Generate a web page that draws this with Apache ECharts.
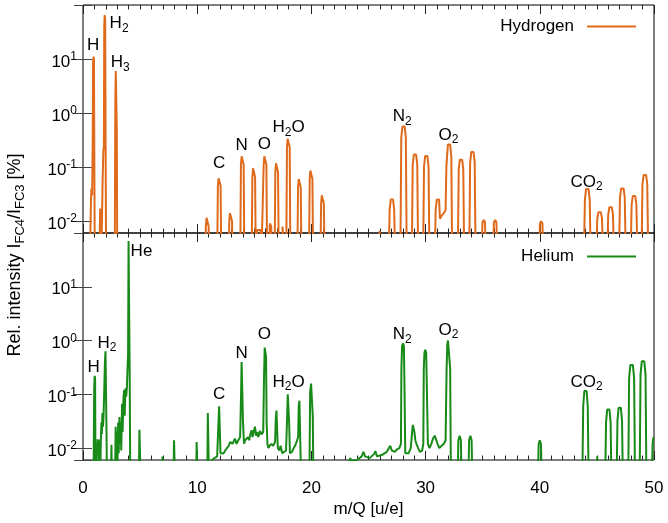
<!DOCTYPE html>
<html>
<head>
<meta charset="utf-8">
<script src="https://cdn.jsdelivr.net/npm/echarts@6/dist/echarts.min.js"></script>
<style>
    html, body { margin: 0; padding: 0; background: #fff; }
    #chart { width: 668px; height: 523px; }
</style>
</head>
<body>
<div id="chart"></div>
<script>
// spectra: [m/Q, rel. intensity %]
// 0.002 is "below the axis" (signal not visible)
const hydrogenSpectrum = [
    [0.6, 0.002], [0.7, 0.025], [0.74, 0.04], [0.8, 0.03], [0.85, 0.3], [0.88, 9], [0.92, 11], [0.96, 10], [0.99, 0.2], [1.03, 0.002],
    [1.44, 0.002], [1.5, 0.017], [1.56, 0.014], [1.6, 0.002], [1.66, 0.01], [1.72, 0.06], [1.78, 0.19], [1.83, 0.25], [1.86, 40], [1.9, 65], [1.94, 55], [1.98, 0.3], [2.02, 0.002],
    [2.78, 0.002], [2.83, 1.5], [2.87, 6], [2.92, 5.8], [2.96, 0.5], [3.0, 0.002],
    [10.7, 0.002], [10.76, 0.008], [10.82, 0.0115], [10.88, 0.012], [10.94, 0.0115], [11.0, 0.008], [11.06, 0.002],
    [11.75, 0.002], [11.81, 0.045], [11.87, 0.062], [11.93, 0.066], [11.99, 0.062], [12.05, 0.045], [12.11, 0.002],
    [12.75, 0.002], [12.81, 0.01], [12.87, 0.014], [12.93, 0.015], [12.99, 0.014], [13.05, 0.01], [13.11, 0.002],
    [13.77, 0.002], [13.83, 0.11], [13.89, 0.158], [13.95, 0.167], [14.01, 0.158], [14.07, 0.11], [14.13, 0.002],
    [14.77, 0.002], [14.83, 0.065], [14.89, 0.095], [14.95, 0.1], [15.01, 0.095], [15.07, 0.065], [15.13, 0.002],
    [15.2, 0.002], [15.25, 0.0068], [15.4, 0.0066], [15.55, 0.0068], [15.62, 0.002],
    [15.76, 0.002], [15.82, 0.11], [15.88, 0.158], [15.94, 0.167], [16.0, 0.158], [16.06, 0.11], [16.12, 0.002],
    [16.3, 0.002], [16.36, 0.009], [16.42, 0.0095], [16.48, 0.008], [16.54, 0.002],
    [16.78, 0.002], [16.84, 0.08], [16.9, 0.117], [16.96, 0.123], [17.02, 0.117], [17.08, 0.08], [17.14, 0.002],
    [17.42, 0.002], [17.48, 0.0079], [17.54, 0.0075], [17.6, 0.002],
    [17.8, 0.002], [17.86, 0.23], [17.92, 0.335], [17.98, 0.355], [18.04, 0.335], [18.1, 0.23], [18.16, 0.002],
    [18.77, 0.002], [18.83, 0.042], [18.89, 0.06], [18.95, 0.063], [19.01, 0.06], [19.07, 0.042], [19.13, 0.002],
    [19.79, 0.002], [19.85, 0.06], [19.91, 0.086], [19.97, 0.091], [20.03, 0.086], [20.09, 0.06], [20.15, 0.002],
    [20.79, 0.002], [20.85, 0.021], [20.91, 0.03], [20.97, 0.032], [21.03, 0.03], [21.09, 0.021], [21.15, 0.002],
    [25.9, 0.002], [25.97, 0.0065], [26.03, 0.007], [26.09, 0.0065], [26.16, 0.002],
    [26.77, 0.002], [26.85, 0.016], [26.95, 0.025], [27.05, 0.027], [27.15, 0.025], [27.25, 0.016], [27.33, 0.002],
    [27.79, 0.002], [27.87, 0.35], [27.97, 0.56], [28.07, 0.6], [28.17, 0.56], [28.27, 0.35], [28.35, 0.002],
    [28.79, 0.002], [28.87, 0.11], [28.97, 0.17], [29.07, 0.18], [29.17, 0.17], [29.27, 0.11], [29.35, 0.002],
    [29.78, 0.002], [29.86, 0.1], [29.96, 0.16], [30.06, 0.17], [30.16, 0.16], [30.26, 0.1], [30.34, 0.002],
    [30.8, 0.002], [30.88, 0.016], [30.98, 0.025], [31.08, 0.027], [31.18, 0.025], [31.26, 0.011], [31.4, 0.0125], [31.6, 0.014], [31.75, 0.016],
    [31.82, 0.1], [31.95, 0.26], [32.05, 0.28], [32.15, 0.26], [32.25, 0.16], [32.33, 0.002],
    [32.82, 0.002], [32.9, 0.09], [33.0, 0.137], [33.1, 0.145], [33.2, 0.137], [33.3, 0.09], [33.38, 0.002],
    [33.82, 0.002], [33.9, 0.12], [34.0, 0.19], [34.1, 0.2], [34.2, 0.19], [34.3, 0.12], [34.38, 0.002],
    [34.9, 0.002], [34.98, 0.0095], [35.09, 0.0105], [35.2, 0.0095], [35.28, 0.002],
    [35.9, 0.002], [35.98, 0.0095], [36.09, 0.0105], [36.2, 0.0095], [36.28, 0.002],
    [39.93, 0.002], [40.01, 0.009], [40.12, 0.0099], [40.23, 0.009], [40.31, 0.002],
    [43.86, 0.002], [43.95, 0.025], [44.05, 0.039], [44.16, 0.041], [44.27, 0.039], [44.37, 0.025], [44.46, 0.002],
    [44.94, 0.002], [45.03, 0.011], [45.13, 0.0145], [45.24, 0.015], [45.35, 0.0145], [45.45, 0.011], [45.54, 0.002],
    [45.9, 0.002], [45.99, 0.013], [46.09, 0.018], [46.2, 0.019], [46.31, 0.018], [46.41, 0.013], [46.5, 0.002],
    [46.93, 0.002], [47.02, 0.027], [47.12, 0.04], [47.23, 0.042], [47.34, 0.04], [47.44, 0.027], [47.53, 0.002],
    [47.95, 0.002], [48.04, 0.02], [48.14, 0.029], [48.25, 0.03], [48.36, 0.029], [48.46, 0.02], [48.55, 0.002],
    [48.9, 0.002], [48.99, 0.048], [49.09, 0.071], [49.2, 0.075], [49.31, 0.071], [49.41, 0.048], [49.5, 0.002]
];

const heliumSpectrum = [
    [0.92, 0.002], [0.98, 0.12], [1.02, 0.22], [1.06, 0.2], [1.1, 0.002],
    [1.24, 0.002], [1.28, 0.0145], [1.33, 0.011], [1.38, 0.0145], [1.43, 0.003],
    [1.5, 0.002], [1.56, 0.013], [1.61, 0.03], [1.65, 0.018], [1.7, 0.045], [1.75, 0.025], [1.8, 0.04], [1.86, 0.12], [1.92, 0.4], [1.97, 0.63], [2.02, 0.6], [2.06, 0.02], [2.1, 0.002],
    [2.44, 0.002], [2.49, 0.0115], [2.54, 0.002],
    [2.8, 0.002], [2.86, 0.025], [2.9, 0.006], [2.96, 0.02], [3.02, 0.005], [3.08, 0.03], [3.13, 0.008], [3.19, 0.038], [3.24, 0.012], [3.3, 0.03], [3.35, 0.009], [3.42, 0.067], [3.47, 0.02], [3.54, 0.08], [3.6, 0.12], [3.65, 0.04], [3.72, 0.13], [3.78, 0.09], [3.84, 0.13], [3.9, 0.12], [3.95, 0.6], [3.99, 71], [4.04, 70], [4.09, 0.2], [4.14, 0.002],
    [4.88, 0.002], [4.94, 0.022], [5.0, 0.021], [5.06, 0.002],
    [6.9, 0.002], [6.96, 0.007], [7.02, 0.002],
    [7.92, 0.002], [7.97, 0.014], [8.02, 0.013], [8.07, 0.002],
    [9.9, 0.002], [9.95, 0.013], [10.0, 0.012], [10.05, 0.002],
    [10.88, 0.002], [10.93, 0.045], [10.99, 0.043], [11.04, 0.002],
    [11.15, 0.004], [11.35, 0.0062], [11.55, 0.0066], [11.75, 0.007],
    [11.86, 0.03], [11.92, 0.06], [11.98, 0.058], [12.04, 0.008],
    [12.2, 0.0075], [12.3, 0.0079], [12.45, 0.009], [12.6, 0.01], [12.75, 0.011], [12.9, 0.013], [13.0, 0.014], [13.1, 0.012], [13.2, 0.013], [13.3, 0.015], [13.45, 0.012], [13.6, 0.014], [13.76, 0.016],
    [13.84, 0.1], [13.89, 0.4], [13.95, 0.38], [14.01, 0.03], [14.1, 0.012], [14.2, 0.014], [14.3, 0.013], [14.45, 0.016], [14.55, 0.014], [14.65, 0.018], [14.77, 0.0215], [14.85, 0.016], [14.95, 0.02], [15.06, 0.025], [15.15, 0.017], [15.25, 0.02], [15.35, 0.016], [15.5, 0.021], [15.62, 0.018], [15.78, 0.02],
    [15.85, 0.2], [15.91, 0.74], [15.97, 0.76], [16.03, 0.5], [16.08, 0.03], [16.15, 0.012], [16.23, 0.01], [16.35, 0.011], [16.5, 0.012], [16.65, 0.011], [16.82, 0.013],
    [16.88, 0.035], [16.94, 0.05], [17.0, 0.048], [17.06, 0.01], [17.2, 0.009], [17.3, 0.011], [17.45, 0.008], [17.6, 0.0085], [17.78, 0.009],
    [17.86, 0.03], [17.93, 0.1], [17.99, 0.105], [18.05, 0.03], [18.12, 0.008], [18.3, 0.0085], [18.45, 0.01], [18.57, 0.011], [18.7, 0.013], [18.84, 0.016],
    [18.89, 0.06], [18.95, 0.076], [19.01, 0.072], [19.07, 0.005], [19.12, 0.002],
    [19.82, 0.002], [19.89, 0.11], [19.97, 0.158], [20.05, 0.15], [20.12, 0.04], [20.18, 0.002],
    [22.9, 0.002], [23.3, 0.0058], [23.4, 0.0065], [23.5, 0.0058], [24.0, 0.006], [24.4, 0.007], [24.56, 0.0085], [24.7, 0.007], [25.1, 0.0065], [25.5, 0.0078], [25.6, 0.0088], [25.75, 0.007], [26.2, 0.0075], [26.6, 0.0085], [26.9, 0.011], [27.05, 0.009], [27.3, 0.0085], [27.5, 0.0095], [27.7, 0.01], [27.84, 0.012],
    [27.88, 0.3], [27.94, 0.8], [28.02, 0.89], [28.1, 0.8], [28.16, 0.1], [28.22, 0.008], [28.35, 0.0075], [28.5, 0.008], [28.7, 0.01],
    [28.82, 0.02], [28.88, 0.027], [28.95, 0.029], [29.02, 0.02], [29.1, 0.014], [29.2, 0.012], [29.35, 0.01], [29.5, 0.0085], [29.7, 0.009], [29.8, 0.012],
    [29.84, 0.3], [29.9, 0.6], [29.97, 0.67], [30.05, 0.6], [30.12, 0.1], [30.2, 0.012], [30.35, 0.01], [30.5, 0.012], [30.65, 0.015], [30.8, 0.017], [30.92, 0.018], [31.05, 0.012], [31.2, 0.01], [31.4, 0.011], [31.6, 0.012], [31.75, 0.014],
    [31.84, 0.3], [31.9, 0.85], [31.96, 1.0], [32.02, 1.02], [32.09, 0.95], [32.15, 0.3], [32.22, 0.002],
    [32.8, 0.002], [32.87, 0.014], [32.98, 0.017], [33.09, 0.014], [33.16, 0.002],
    [33.74, 0.002], [33.81, 0.014], [33.92, 0.017], [34.03, 0.014], [34.1, 0.002],
    [39.82, 0.002], [39.9, 0.012], [40.0, 0.014], [40.1, 0.012], [40.18, 0.002],
    [43.72, 0.002], [43.8, 0.06], [43.9, 0.115], [44.0, 0.123], [44.1, 0.115], [44.2, 0.06], [44.28, 0.002],
    [44.95, 0.002], [45.03, 0.007], [45.1, 0.002],
    [45.72, 0.002], [45.8, 0.03], [45.9, 0.052], [46.0, 0.056], [46.1, 0.052], [46.2, 0.03], [46.28, 0.002],
    [46.72, 0.002], [46.8, 0.032], [46.9, 0.056], [47.0, 0.06], [47.1, 0.056], [47.2, 0.032], [47.28, 0.002],
    [47.74, 0.002], [47.82, 0.2], [47.93, 0.35], [48.04, 0.37], [48.15, 0.35], [48.26, 0.2], [48.34, 0.002],
    [48.74, 0.002], [48.82, 0.23], [48.93, 0.41], [49.04, 0.43], [49.15, 0.41], [49.26, 0.23], [49.34, 0.002],
    [49.8, 0.002], [49.88, 0.012], [49.95, 0.016], [50.0, 0.016]
];

// peak annotations: [text, m/Q, value at label centre]
const hydrogenLabels = [
    ['H', 0.88, 17.6], ['H{s|2}', 3.16, 45], ['H{s|3}', 3.25, 8.6],
    ['C', 11.93, 0.117], ['N', 13.89, 0.25], ['O', 15.88, 0.26], ['H{s|2}O', 18.0, 0.54],
    ['N{s|2}', 27.96, 0.86], ['O{s|2}', 32.0, 0.39], ['CO{s|2}', 44.1, 0.053]
];
const heliumLabels = [
    ['H', 0.94, 0.32], ['H{s|2}', 2.1, 0.9], ['He', 5.12, 45],
    ['C', 11.93, 0.099], ['N', 13.89, 0.58], ['O', 15.88, 1.33], ['H{s|2}O', 18.0, 0.17],
    ['N{s|2}', 27.96, 1.3], ['O{s|2}', 32.0, 1.58], ['CO{s|2}', 44.1, 0.17]
];

const xMin = 0, xMax = 50, xStep = 10;
const yMin = 0.006, yMax = 100;

const FONT = '"Liberation Sans", Arial, sans-serif';
const ORANGE = '#e06a1b';
const GREEN = '#178a17';

const chart = echarts.init(document.getElementById('chart'), null, { renderer: 'canvas' });

// 10^n labels only on whole decades
function decadeLabel(v) {
    const e = Math.log10(v);
    const r = Math.round(e);
    if (Math.abs(e - r) > 1e-6 || r > 1) return '';
    return '10{sup|' + r + '}';
}

const xAxis = (grid, pos, withLabels) => ({
    type: 'value',
    gridIndex: grid,
    position: pos,
    min: xMin,
    max: xMax,
    interval: xStep,
    axisLine: { show: false },
    splitLine: { show: false },
    axisTick: { show: true, inside: true, length: 9, lineStyle: { color: '#222', width: 1 } },
    minorTick: { show: true, splitNumber: 10, length: 4.5, lineStyle: { color: '#222', width: 1 } },
    axisLabel: { show: withLabels, margin: 20, fontSize: 17, fontFamily: FONT, color: '#000' },
    name: withLabels ? 'm/Q [u/e]' : '',
    nameLocation: 'middle',
    nameGap: 41,
    nameTextStyle: { fontSize: 17, fontFamily: FONT, color: '#000' }
});

const yAxis = (grid, pos, withLabels) => ({
    type: 'log',
    logBase: 10,
    gridIndex: grid,
    position: pos,
    min: yMin,
    max: yMax,
    axisLine: { show: false },
    splitLine: { show: false },
    axisTick: { show: true, inside: true, length: 9, lineStyle: { color: '#444', width: 1 } },
    axisLabel: {
        show: withLabels,
        margin: 6,
        fontSize: 17,
        lineHeight: 22,
        padding: [6, 0, 0, 0],
        fontFamily: FONT,
        color: '#000',
        formatter: decadeLabel,
        rich: { sup: { fontSize: 12, lineHeight: 12, verticalAlign: 'top', fontFamily: FONT, color: '#000' } }
    }
});

const peakMarks = labels => ({
    symbol: 'circle',
    symbolSize: 0,
    silent: true,
    animation: false,
    label: {
        show: true,
        position: 'inside',
        formatter: p => p.name,
        fontSize: 17,
        lineHeight: 22,
        fontFamily: FONT,
        color: '#000',
        rich: { s: { fontSize: 12, lineHeight: 12, verticalAlign: 'bottom', fontFamily: FONT, color: '#000' } }
    },
    data: labels.map(l => ({ name: l[0], coord: [l[1], l[2]] }))
});

const legendBase = {
    right: 32,
    align: 'right',
    orient: 'vertical',
    padding: 0,
    icon: 'rect',
    itemWidth: 49,
    itemHeight: 2,
    selectedMode: false,
    textStyle: { fontSize: 17, fontFamily: FONT, color: '#000', padding: [0, 8, 0, 0] }
};

const option = {
    animation: false,
    backgroundColor: '#fff',
    grid: [
        { left: 83, top: 5, width: 571, height: 228, show: true, borderColor: '#000', borderWidth: 1, backgroundColor: 'transparent' },
        { left: 83, top: 233, width: 571, height: 227, show: true, borderColor: '#000', borderWidth: 1, backgroundColor: 'transparent' }
    ],
    xAxis: [
        xAxis(0, 'bottom', false), xAxis(0, 'top', false),
        xAxis(1, 'bottom', true), xAxis(1, 'top', false)
    ],
    yAxis: [
        yAxis(0, 'left', true), yAxis(0, 'right', false),
        yAxis(1, 'left', true), yAxis(1, 'right', false)
    ],
    legend: [
        Object.assign({}, legendBase, { top: 18, data: ['Hydrogen'] }),
        Object.assign({}, legendBase, { top: 248, data: ['Helium'] })
    ],
    graphic: [{
        type: 'text',
        x: 15,
        y: 255,
        rotation: Math.PI / 2,
        style: {
            text: 'Rel. intensity I{s|FC4}/I{s|FC3} [%]',
            align: 'center',
            verticalAlign: 'middle',
            fontSize: 18,
            lineHeight: 24,
            fontFamily: FONT,
            fill: '#000',
            rich: { s: { fontSize: 13, lineHeight: 13, verticalAlign: 'bottom', fontFamily: FONT, fill: '#000' } }
        }
    }],
    series: [
        {
            name: 'Hydrogen',
            type: 'line',
            xAxisIndex: 0,
            yAxisIndex: 0,
            data: hydrogenSpectrum,
            symbol: 'none',
            showSymbol: false,
            color: ORANGE,
            lineStyle: { color: ORANGE, width: 2 },
            markPoint: peakMarks(hydrogenLabels)
        },
        {
            name: 'Helium',
            type: 'line',
            xAxisIndex: 2,
            yAxisIndex: 2,
            data: heliumSpectrum,
            symbol: 'none',
            showSymbol: false,
            color: GREEN,
            lineStyle: { color: GREEN, width: 2 },
            markPoint: peakMarks(heliumLabels)
        }
    ]
};

chart.setOption(option);
</script>
</body>
</html>
